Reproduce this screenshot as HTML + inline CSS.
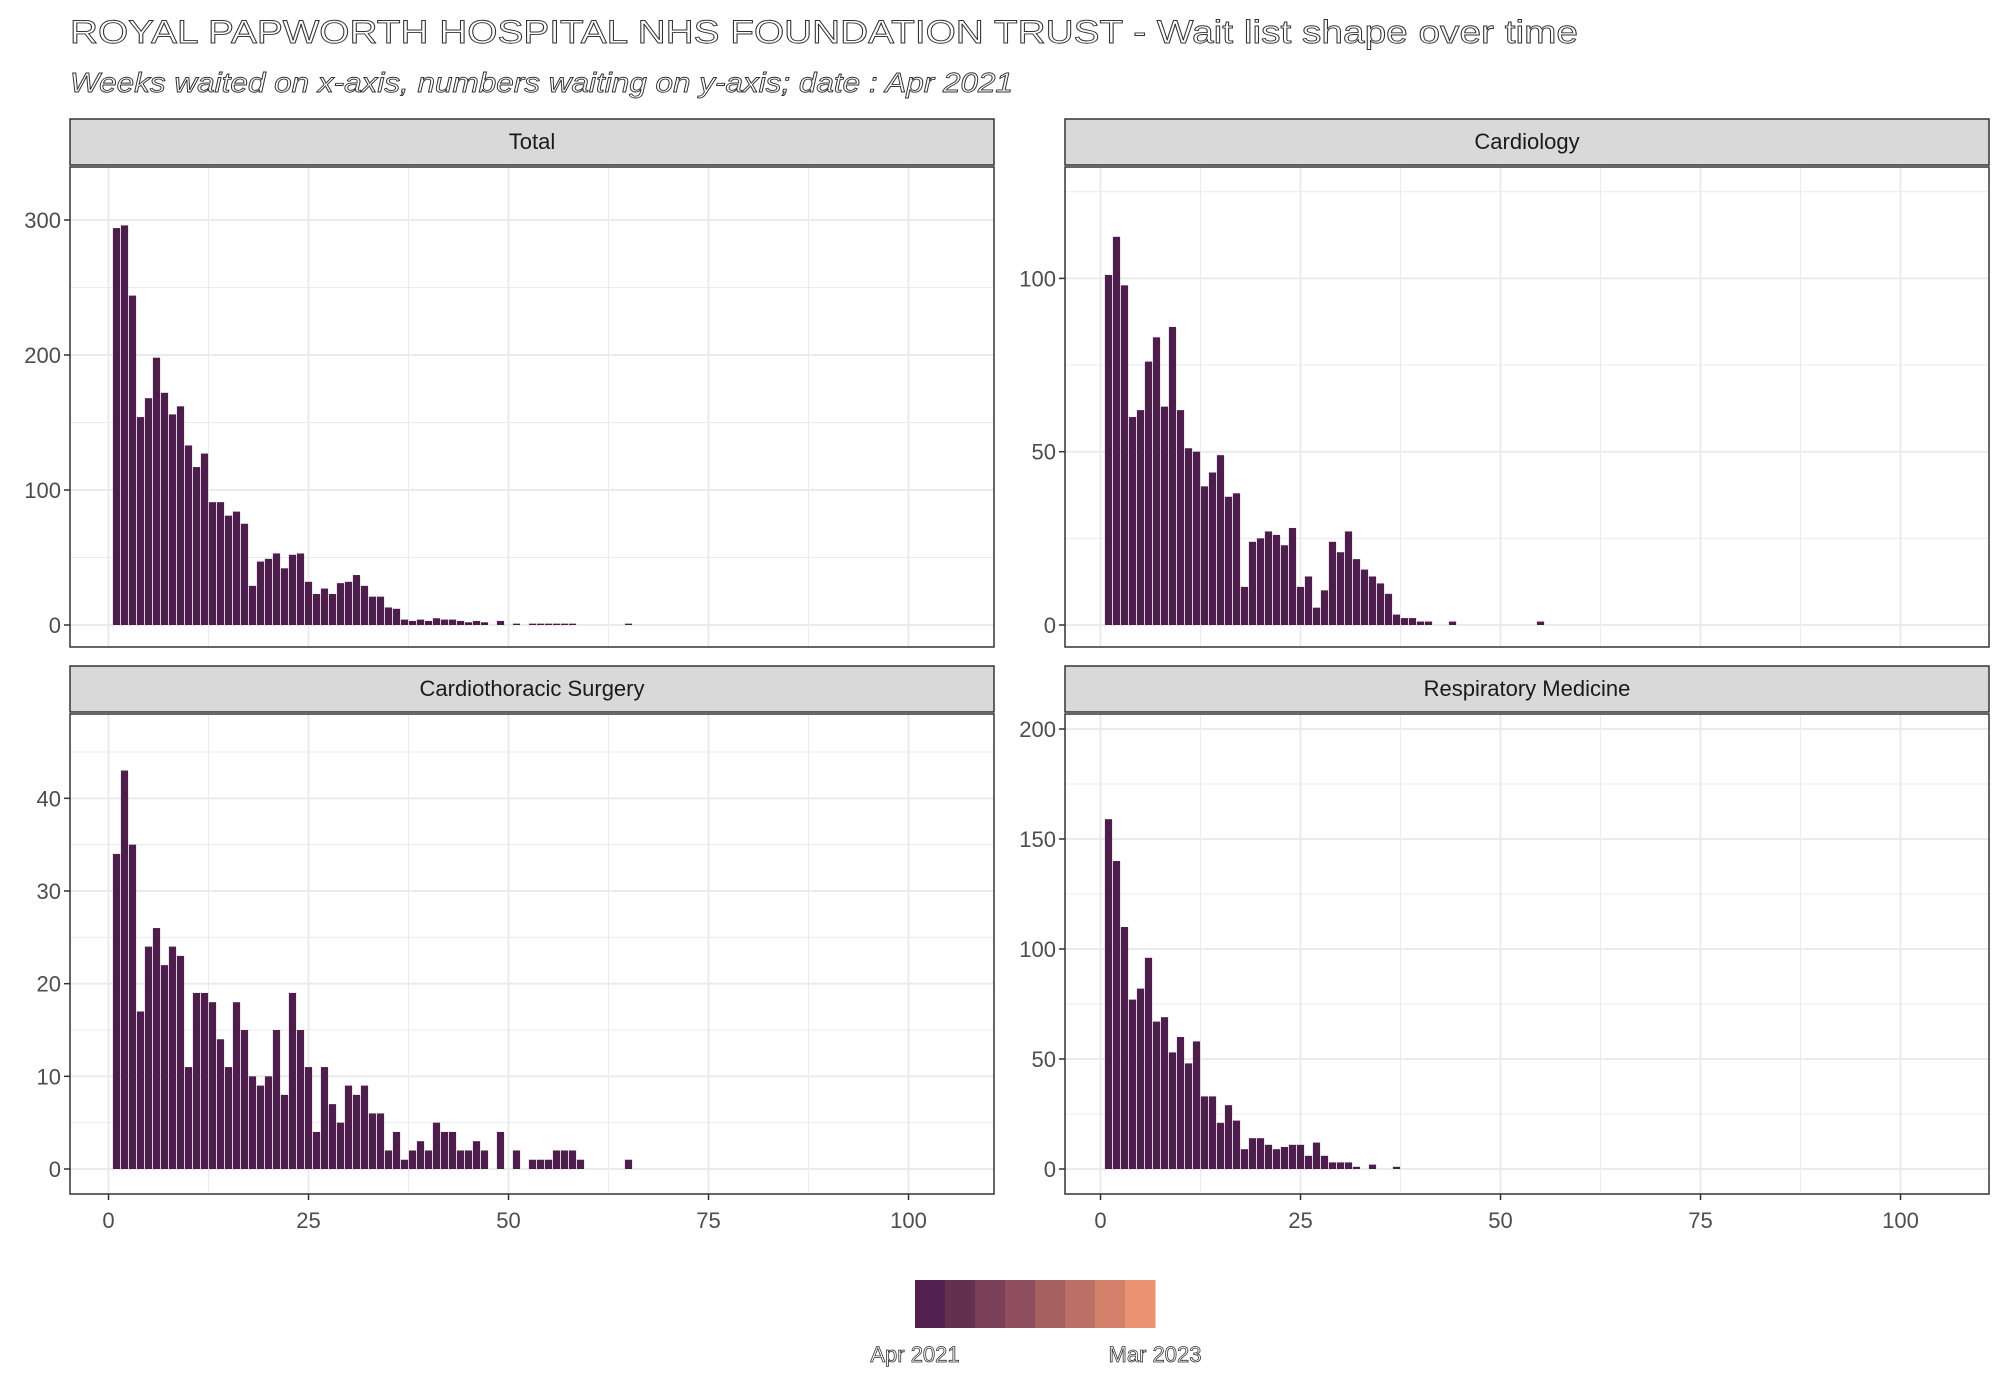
<!DOCTYPE html>
<html><head><meta charset="utf-8"><style>
html,body{margin:0;padding:0;background:#fff;}
svg{display:block;font-family:"Liberation Sans",Arial,sans-serif;}
</style></head><body>
<svg id="chart" width="2000" height="1400" viewBox="0 0 2000 1400" xmlns="http://www.w3.org/2000/svg">
<rect width="2000" height="1400" fill="#fff"/>
<text x="70" y="43" font-size="32" fill="#fff" stroke="#333" stroke-width="0.9" textLength="1508" lengthAdjust="spacingAndGlyphs">ROYAL PAPWORTH HOSPITAL NHS FOUNDATION TRUST - Wait list shape over time</text>
<text x="70" y="92" font-size="28" font-style="italic" fill="#fff" stroke="#333" stroke-width="0.9" textLength="943" lengthAdjust="spacingAndGlyphs">Weeks waited on x-axis, numbers waiting on y-axis; date : Apr 2021</text>
<g id="panels"></g>
<g id="legend"></g>
</svg>
<script>
// Data arrays (weeks start at 1; value per week)
const totalValues = [294,296,244,154,168,198,172,156,162,133,117,127,91,91,81,84,75,29,47,49,53,42,52,53,32,23,27,23,31,32,37,29,21,21,13,12,4,3,4,3,5,4,4,3,2,3,2,0,3,0,1,0,1,1,1,1,1,1,0,0,0,0,0,0,1];
const cardiologyValues = [101,112,98,60,62,76,83,63,86,62,51,50,40,44,49,37,38,11,24,25,27,26,23,28,11,14,5,10,24,21,27,19,16,14,12,9,3,2,2,1,1,0,0,1,0,0,0,0,0,0,0,0,0,0,1];
const surgeryValues = [34,43,35,17,24,26,22,24,23,11,19,19,18,14,11,18,15,10,9,10,15,8,19,15,11,4,11,7,5,9,8,9,6,6,2,4,1,2,3,2,5,4,4,2,2,3,2,0,4,0,2,0,1,1,1,2,2,2,1,0,0,0,0,0,1];
const respiratoryValues = [159,140,110,77,82,96,67,69,53,60,48,58,33,33,21,29,22,9,14,14,11,9,10,11,11,6,12,6,3,3,3,1,0,2,0,0,1];
const panelTitles = ["Total","Cardiology","Cardiothoracic Surgery","Respiratory Medicine"];
const xTicks = [0,25,50,75,100];
const totalTicks = [0,100,200,300];
const cardiologyTicks = [0,50,100];
const surgeryTicks = [0,10,20,30,40];
const respiratoryTicks = [0,50,100,150,200];
const legendColours = ["#532150","#64304f","#7b3f58","#8e4e5d","#a66060","#bb7066","#d3816b","#ea9272"];
const legendLabels = ["Apr 2021","Mar 2023"];

const NS="http://www.w3.org/2000/svg";
function mk(tag,attrs,parent){const e=document.createElementNS(NS,tag);for(const k in attrs)e.setAttribute(k,attrs[k]);parent.appendChild(e);return e;}

const layouts=[
 {vals:totalValues,ticks:totalTicks,left:70,top:167,x0:108.5,y0:625,ky:1.35,minor:50,sname:"total"},
 {vals:cardiologyValues,ticks:cardiologyTicks,left:1065,top:167,x0:1100.5,y0:625,ky:3.466,minor:25,sname:"cardiology"},
 {vals:surgeryValues,ticks:surgeryTicks,left:70,top:714,x0:108.5,y0:1169,ky:9.267,minor:5,sname:"cardiothoracic-surgery"},
 {vals:respiratoryValues,ticks:respiratoryTicks,left:1065,top:714,x0:1100.5,y0:1169,ky:2.2,minor:25,sname:"respiratory-medicine"}
];
const W=924,H=480,KX=8;
const root=document.getElementById('panels');
layouts.forEach((L,i)=>{
 const g=mk('g',{},root);
 
 
 const xs=w=>L.x0+KX*w;
 const ys=v=>L.y0-L.ky*v;
 // strip
 const st=mk('rect',{x:L.left,y:L.top-48,width:W,height:46,fill:"#d9d9d9",stroke:"#333","stroke-width":1.5},g);
 
 
 const stt=mk('text',{x:L.left+W/2,y:L.top-18,"font-size":22,fill:"#1a1a1a","text-anchor":"middle"},g);
 stt.textContent=panelTitles[i];
 
 
 // minor grid
 const yMin=(L.y0-(L.top+H))/L.ky, yMax=(L.y0-L.top)/L.ky;
 for(let v=Math.ceil(yMin/L.minor)*L.minor; v<=yMax; v+=L.minor){
  const major=L.ticks.includes(v);
  const gl=mk('line',{x1:L.left,x2:L.left+W,y1:ys(v),y2:ys(v),stroke:"#ebebeb","stroke-width":major?2:1},g);
  
  
 }
 for(let w=-12.5; w<=112.5; w+=12.5){
  const x=xs(w); if(x<L.left||x>L.left+W) continue;
  const major=xTicks.includes(w);
  const gl=mk('line',{x1:x,x2:x,y1:L.top,y2:L.top+H,stroke:"#ebebeb","stroke-width":major?2:1},g);
  
  
 }
 // bars
 L.vals.forEach((v,j)=>{
  if(v<=0) return;
  const w=j+1;
  const b=mk('rect',{x:xs(w-0.45),y:ys(v),width:KX*0.9,height:L.y0-ys(v),fill:"#4d1e4b"},g);
  
  
 });
 // border
 const bd=mk('rect',{x:L.left,y:L.top,width:W,height:H,fill:"none",stroke:"#333","stroke-width":1.5},g);
 
 
 // y ticks
 L.ticks.forEach(v=>{
  mk('line',{x1:L.left-6,x2:L.left,y1:ys(v),y2:ys(v),stroke:"#333","stroke-width":1.5},g);
  const t=mk('text',{x:L.left-9,y:ys(v)+8,"font-size":22,fill:"#4d4d4d","text-anchor":"end"},g);
  t.textContent=v;
  
  
 });
 // x ticks (bottom row only)
 if(i>=2){
  xTicks.forEach(w=>{
   mk('line',{x1:xs(w),x2:xs(w),y1:L.top+H,y2:L.top+H+6,stroke:"#333","stroke-width":1.5},g);
   const t=mk('text',{x:xs(w),y:L.top+H+34,"font-size":22,fill:"#4d4d4d","text-anchor":"middle"},g);
   t.textContent=w;
   
   
  });
 }
});
// legend
const lg=document.getElementById('legend');
const lx=915,lw=30,ly=1280,lh=48;
legendColours.forEach((c,i)=>{
 const r=mk('rect',{x:lx+i*lw,y:ly,width:lw+0.5,height:lh,fill:c},lg);
 
 
});
legendLabels.forEach((s,i)=>{
 const t=mk('text',{x:lx+i*lw*legendColours.length,y:1362,"font-size":22,fill:"#fff",stroke:"#333","stroke-width":0.8,"text-anchor":"middle"},lg);
 t.textContent=s;
 
 
});
</script>
</body></html>
